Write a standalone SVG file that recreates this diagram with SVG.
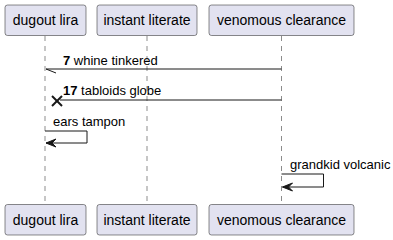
<svg xmlns="http://www.w3.org/2000/svg" width="393" height="240" viewBox="0 0 393 240">
  <style>
    .life { stroke: #181818; stroke-width: 0.5; stroke-dasharray: 5,5; fill: none; }
    .box { fill: #E2E2F0; stroke: #181818; stroke-width: 0.5; }
    .name { font-family: "Liberation Sans", Arial, sans-serif; font-size: 14px; fill: #000000; text-anchor: middle; }
    .msg { stroke: #181818; stroke-width: 1; fill: none; }
    .cross { stroke: #181818; stroke-width: 2; fill: none; }
    .head { fill: #181818; stroke: #181818; stroke-width: 1; }
    .label { font-family: "Liberation Sans", Arial, sans-serif; font-size: 13px; fill: #000000; }
    .num { font-weight: bold; }
  </style>
  <rect width="393" height="240" fill="#FFFFFF"/>

  <!-- lifelines -->
  <g id="lifelines">
    <line class="life" x1="45" y1="36" x2="45" y2="204"/>
    <line class="life" x1="147" y1="36" x2="147" y2="204"/>
    <line class="life" x1="281.5" y1="36" x2="281.5" y2="204"/>
  </g>

  <!-- participants -->
  <g id="dugout-lira">
    <rect class="box" x="5" y="5" width="81" height="30.5" rx="2.5"/>
    <text class="name" x="45.5" y="25">dugout lira</text>
    <rect class="box" x="5" y="204.5" width="81" height="30.5" rx="2.5"/>
    <text class="name" x="45.5" y="224.5">dugout lira</text>
  </g>
  <g id="instant-literate">
    <rect class="box" x="97" y="5" width="100" height="30.5" rx="2.5"/>
    <text class="name" x="147" y="25">instant literate</text>
    <rect class="box" x="97" y="204.5" width="100" height="30.5" rx="2.5"/>
    <text class="name" x="147" y="224.5">instant literate</text>
  </g>
  <g id="venomous-clearance">
    <rect class="box" x="209" y="5" width="145" height="30.5" rx="2.5"/>
    <text class="name" x="281.5" y="25">venomous clearance</text>
    <rect class="box" x="209" y="204.5" width="145" height="30.5" rx="2.5"/>
    <text class="name" x="281.5" y="224.5">venomous clearance</text>
  </g>

  <!-- messages -->
  <g id="connectors">
    <!-- 7 whine tinkered: half open arrowhead -->
    <line class="msg" x1="281.5" y1="69" x2="46" y2="69"/>
    <line class="msg" x1="46" y1="69" x2="56" y2="73"/>
    <text class="label" x="63" y="64.5"><tspan class="num">7</tspan> whine tinkered</text>

    <!-- 17 tabloids globe: lost message -->
    <line class="msg" x1="281.5" y1="100" x2="60" y2="100"/>
    <line class="cross" x1="52" y1="96" x2="62" y2="106"/>
    <line class="cross" x1="52" y1="106" x2="62" y2="96"/>
    <text class="label" x="63" y="95"><tspan class="num">17</tspan> tabloids globe</text>

    <!-- ears tampon: self message -->
    <polyline class="msg" points="45,131 87,131 87,143 46,143"/>
    <polygon class="head" points="46,143 56,139 52,143 56,147"/>
    <text class="label" x="53" y="126">ears tampon</text>

    <!-- grandkid volcanic: self message -->
    <polyline class="msg" points="281.5,174 323.5,174 323.5,187 282.5,187"/>
    <polygon class="head" points="282.5,187 292.5,183 288.5,187 292.5,191"/>
    <text class="label" x="290" y="168.5">grandkid volcanic</text>
  </g>
</svg>
